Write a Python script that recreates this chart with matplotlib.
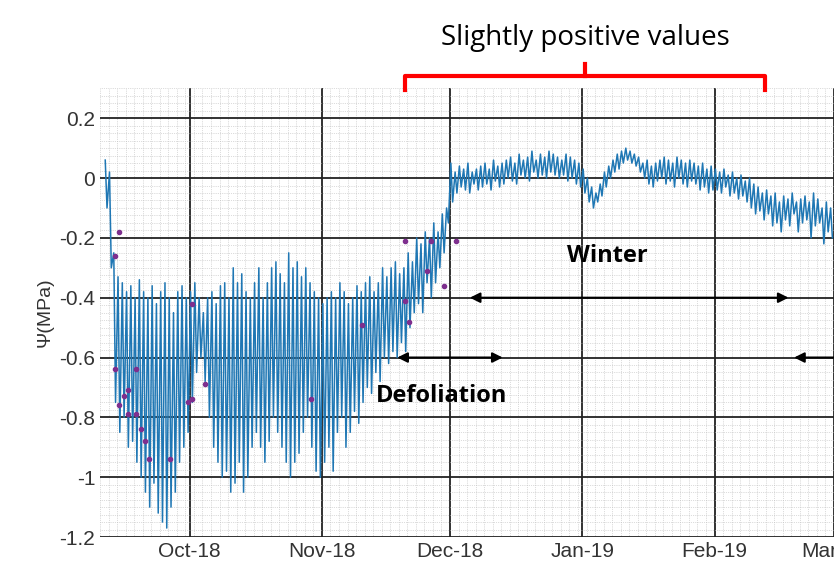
import datetime as dt
import matplotlib
matplotlib.use("Agg")
import matplotlib.pyplot as plt
import matplotlib.dates as mdates
from matplotlib.ticker import MultipleLocator

# daily max / min of water potential (MPa), one pair per day from 11 Sep 2018
hi_sep = [0.06,0.02,-0.25,-0.33,-0.35,-0.38,-0.36,-0.4,-0.34,-0.38,-0.4,-0.36,-0.42,-0.38,-0.35,-0.4,-0.45,-0.38,-0.36,-0.4]
lo_sep = [-0.1,-0.3,-0.75,-0.85,-0.8,-0.9,-0.88,-0.95,-1.0,-1.05,-1.1,-1.02,-1.12,-1.15,-1.17,-1.1,-1.05,-0.95,-0.9,-0.85]
hi_oct = [-0.38,-0.35,-0.4,-0.45,-0.4,-0.38,-0.42,-0.36,-0.35,-0.4,-0.3,-0.35,-0.32,-0.38,-0.4,-0.35,-0.3,-0.4,-0.35,-0.3,-0.28,-0.32,-0.35,-0.25,-0.3,-0.28,-0.33,-0.3,-0.35,-0.38,-0.4]
lo_oct = [-0.75,-0.65,-0.6,-0.68,-0.8,-0.9,-0.95,-1.0,-0.98,-1.05,-1.02,-0.95,-1.05,-1.0,-0.9,-0.85,-0.9,-0.95,-0.88,-0.8,-0.85,-0.9,-0.95,-1.0,-0.95,-0.92,-0.85,-0.8,-0.9,-0.98,-1.0]
hi_nov = [-0.42,-0.4,-0.38,-0.4,-0.35,-0.38,-0.42,-0.4,-0.36,-0.38,-0.35,-0.33,-0.38,-0.35,-0.3,-0.33,-0.3,-0.28,-0.32,-0.3,-0.25,-0.28,-0.2,-0.22,-0.18,-0.2,-0.15,-0.18,-0.12,-0.1]
lo_nov = [-0.95,-0.9,-0.98,-0.85,-0.8,-0.9,-0.85,-0.78,-0.82,-0.75,-0.7,-0.72,-0.65,-0.68,-0.6,-0.62,-0.58,-0.6,-0.55,-0.58,-0.5,-0.45,-0.42,-0.45,-0.35,-0.4,-0.35,-0.3,-0.25,-0.15]
hi_dec = [0.05,0.02,0.04,0.03,0.05,0.02,0.03,0.04,0.05,0.03,0.06,0.04,0.05,0.06,0.07,0.05,0.08,0.06,0.07,0.09,0.06,0.08,0.07,0.09,0.08,0.07,0.06,0.08,0.07,0.06,0.05]
lo_dec = [-0.08,-0.05,-0.03,-0.04,-0.05,-0.02,-0.04,-0.03,-0.02,-0.04,-0.01,-0.03,-0.02,0.0,-0.01,-0.02,0.01,0.0,-0.01,0.02,0.0,0.01,0.0,0.02,0.01,0.0,0.01,-0.01,0.0,-0.02,-0.03]
hi_jan = [0.03,0.0,-0.03,-0.05,-0.02,0.02,0.04,0.06,0.08,0.09,0.1,0.09,0.08,0.07,0.05,0.06,0.04,0.05,0.06,0.07,0.06,0.05,0.07,0.06,0.05,0.06,0.05,0.04,0.05,0.03,0.04]
lo_jan = [-0.05,-0.08,-0.1,-0.08,-0.06,-0.03,0.0,0.02,0.03,0.05,0.06,0.05,0.04,0.02,0.0,-0.02,-0.03,-0.01,0.0,-0.02,-0.01,-0.03,0.0,-0.02,-0.03,-0.01,-0.02,-0.04,-0.03,-0.05,-0.04]
hi_feb = [0.03,0.02,0.03,0.01,0.02,0.0,0.01,-0.01,0.0,-0.02,-0.03,-0.05,-0.04,-0.06,-0.05,-0.08,-0.06,-0.07,-0.05,-0.08,-0.07,-0.06,-0.08,-0.05,-0.07,-0.1,-0.08,-0.1]
lo_feb = [-0.04,-0.05,-0.03,-0.06,-0.05,-0.07,-0.06,-0.08,-0.1,-0.12,-0.11,-0.14,-0.12,-0.16,-0.15,-0.18,-0.14,-0.16,-0.12,-0.18,-0.15,-0.14,-0.2,-0.16,-0.15,-0.22,-0.18,-0.2]

# measured points (date, MPa)
meas_dates = ["2018-09-13","2018-09-14","2018-09-13","2018-09-14","2018-09-15","2018-09-16","2018-09-16","2018-09-18","2018-09-18",
              "2018-09-19","2018-09-20","2018-09-21","2018-09-26","2018-09-30","2018-10-01","2018-10-01","2018-10-04",
              "2018-10-29","2018-11-10","2018-11-20","2018-11-20","2018-11-21","2018-11-25","2018-11-26","2018-11-29","2018-12-02"]
meas_vals = [-0.26,-0.18,-0.64,-0.76,-0.73,-0.71,-0.79,-0.64,-0.79,
             -0.84,-0.88,-0.94,-0.94,-0.75,-0.74,-0.42,-0.69,
             -0.74,-0.49,-0.21,-0.41,-0.48,-0.31,-0.21,-0.36,-0.21]

hi = hi_sep + hi_oct + hi_nov + hi_dec + hi_jan + hi_feb
lo = lo_sep + lo_oct + lo_nov + lo_dec + lo_jan + lo_feb
start = dt.datetime(2018, 9, 11)
t, y = [], []
for i in range(len(hi)):
    day = start + dt.timedelta(days=i)
    t += [day + dt.timedelta(hours=5), day + dt.timedelta(hours=15)]
    y += [hi[i], lo[i]]

plt.rcParams['font.family'] = ['Liberation Sans', 'DejaVu Sans']
fig = plt.figure(figsize=(8.34, 5.79), dpi=100)
ax = fig.add_axes([0.12, 0.0725, 0.88, 0.775])
ax.plot(t, y, color="#1f77b4", lw=1.1)
ax.plot([dt.datetime.strptime(d, "%Y-%m-%d") + dt.timedelta(hours=12) for d in meas_dates], meas_vals,
        "o", color="#7e2f8e", ms=3)

ax.set_xlim(dt.datetime(2018, 9, 10), dt.datetime(2019, 3, 1))
ax.set_ylim(-1.2, 0.3)
ax.yaxis.set_minor_locator(MultipleLocator(0.025))
ax.xaxis.set_major_locator(mdates.MonthLocator())
ax.xaxis.set_major_formatter(mdates.DateFormatter("%b-%y"))
ax.xaxis.set_minor_locator(mdates.DayLocator(interval=2))
ax.set_yticks([0.2, 0, -0.2, -0.4, -0.6, -0.8, -1, -1.2])
ax.set_yticklabels(["0.2", "0", "-0.2", "-0.4", "-0.6", "-0.8", "-1", "-1.2"])
ax.grid(which="major", color="#222222", lw=1.3)
ax.grid(which="minor", color="#bbbbbb", lw=0.5, ls=":")
ax.tick_params(which="both", labelsize=15, colors="#333333", length=0)
ax.set_ylabel("Ψ(MPa)", fontsize=14, color="#333333")
for s in ax.spines.values():
    s.set_visible(False)

arr = dict(arrowstyle="<|-|>", color="black", lw=1.5, mutation_scale=15)
ax.annotate("", xy=(dt.datetime(2018, 12, 5), -0.4), xytext=(dt.datetime(2019, 2, 19), -0.4), arrowprops=arr)
ax.annotate("", xy=(dt.datetime(2018, 11, 18), -0.6), xytext=(dt.datetime(2018, 12, 14), -0.6), arrowprops=arr)
ax.annotate("", xy=(dt.datetime(2019, 2, 19), -0.6), xytext=(dt.datetime(2019, 3, 5), -0.6),
            arrowprops=dict(arrowstyle="-|>", color="black", lw=1.5, mutation_scale=15), annotation_clip=False)
ax.text(dt.datetime(2019, 1, 7), -0.26, "Winter", fontsize=17, fontweight="bold", ha="center", va="center",
        family="Open Sans")
ax.text(dt.datetime(2018, 11, 29), -0.73, "Defoliation", fontsize=17, fontweight="bold", ha="center", va="center",
        family="Open Sans")

# red bracket above the axes
bx0, bx1, bym = 405 / 834, 765 / 834, 1 - 76 / 579
fig.add_artist(plt.Line2D([bx0, bx0, bx1, bx1], [bym - 0.025, bym, bym, bym - 0.025], color="red", lw=3,
                          transform=fig.transFigure))
fig.add_artist(plt.Line2D([585 / 834, 585 / 834], [bym, bym + 0.02], color="red", lw=3, transform=fig.transFigure))
fig.text(585 / 834, 1 - 38 / 579, "Slightly positive values", fontsize=20, ha="center", va="center",
         family="Open Sans")

fig.savefig("out.png", dpi=100)
